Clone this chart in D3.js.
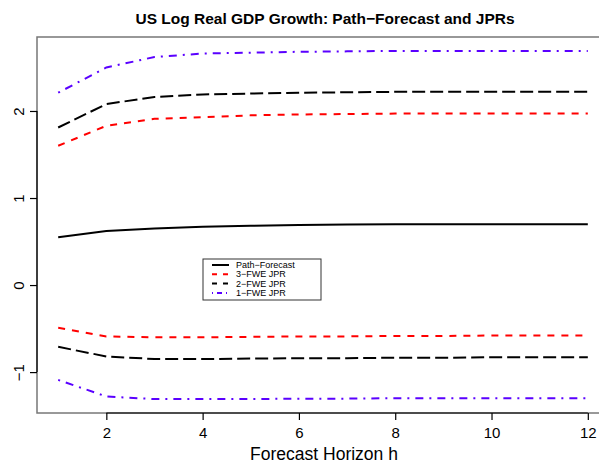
<!DOCTYPE html>
<html>
<head>
  <meta charset='utf-8'>
  <title>US Log Real GDP Growth</title>
  <script src='https://cdn.jsdelivr.net/npm/d3@7'></script>
  <style>
    body { margin: 0; background: #fff; }
    text { font-family: 'Liberation Sans', Arial, sans-serif; }
  </style>
</head>
<body>
  <script>
    // forecast horizons 1..12
    const horizon = [1, 2, 3, 4, 5, 6, 7, 8, 9, 10, 11, 12]
    const pathForecast = [0.55, 0.62, 0.65, 0.67, 0.68, 0.69, 0.695, 0.70, 0.70, 0.70, 0.70, 0.70]
    const up3 = [1.60, 1.83, 1.91, 1.93, 1.95, 1.96, 1.965, 1.97, 1.97, 1.97, 1.97, 1.97]
    const lo3 = [-0.49, -0.59, -0.60, -0.60, -0.595, -0.59, -0.59, -0.585, -0.585, -0.58, -0.58, -0.58]
    const up2 = [1.81, 2.08, 2.16, 2.19, 2.20, 2.21, 2.215, 2.22, 2.22, 2.22, 2.22, 2.22]
    const lo2 = [-0.71, -0.82, -0.85, -0.85, -0.845, -0.84, -0.84, -0.835, -0.835, -0.83, -0.83, -0.83]
    const up1 = [2.21, 2.50, 2.62, 2.66, 2.67, 2.68, 2.685, 2.69, 2.69, 2.69, 2.69, 2.69]
    const lo1 = [-1.09, -1.28, -1.31, -1.31, -1.31, -1.305, -1.305, -1.30, -1.30, -1.30, -1.30, -1.30]
    const xTicks = [2, 4, 6, 8, 10, 12]
    const yTicks = [-1, 0, 1, 2]
    const legendLabels = ['Path\u2212Forecast', '3\u2212FWE JPR', '2\u2212FWE JPR', '1\u2212FWE JPR']

    const width = 599, height = 466
    const plot = { left: 37, right: 609, top: 37, bottom: 413 }

    const styles = [
      { color: '#000', dash: null },
      { color: '#ff0000', dash: '7,7' },
      { color: '#000', dash: '13,5' },
      { color: '#5a00ff', dash: '2,6,8,6' }
    ]
    const series = [
      { vals: pathForecast, s: 0 },
      { vals: up3, s: 1 }, { vals: lo3, s: 1 },
      { vals: up2, s: 2 }, { vals: lo2, s: 2 },
      { vals: up1, s: 3 }, { vals: lo1, s: 3 }
    ]

    const x = d3.scaleLinear().domain([0.56, 12.44]).range([plot.left, plot.right])
    const y = d3.scaleLinear().domain([-1.47, 2.85]).range([plot.bottom, plot.top])

    const svg = d3.select('body').append('svg')
      .attr('width', width).attr('height', height)

    // plot box
    svg.append('rect')
      .attr('x', plot.left).attr('y', plot.top)
      .attr('width', plot.right - plot.left).attr('height', plot.bottom - plot.top)
      .attr('fill', 'none').attr('stroke', '#777').attr('stroke-width', 1.5)

    const line = d3.line().x((d, i) => x(horizon[i])).y(d => y(d))

    svg.append('g').selectAll('path')
      .data(series)
      .join('path')
      .attr('d', d => line(d.vals))
      .attr('fill', 'none')
      .attr('stroke', d => styles[d.s].color)
      .attr('stroke-width', 2)
      .attr('stroke-dasharray', d => styles[d.s].dash)

    // x axis
    const xAxis = svg.append('g').attr('transform', `translate(0,${plot.bottom})`)
      .call(d3.axisBottom(x).tickValues(xTicks).tickSize(7).tickPadding(7).tickSizeOuter(0))
    xAxis.select('.domain').attr('d', `M${x(2)},0H${x(12)}`).attr('stroke-width', 1.2)
    xAxis.selectAll('line').attr('stroke-width', 1.2)
    xAxis.selectAll('text').attr('font-size', 15).attr('fill', '#000')

    // y axis, labels rotated like R
    const yAxis = svg.append('g').attr('transform', `translate(${plot.left},0)`)
      .call(d3.axisLeft(y).tickValues(yTicks).tickSize(7).tickFormat(d => d < 0 ? '\u2212' + Math.abs(d) : d).tickSizeOuter(0))
    yAxis.select('.domain').attr('d', `M0,${y(-1)}V${y(2)}`).attr('stroke-width', 1.2)
    yAxis.selectAll('line').attr('stroke-width', 1.2)
    yAxis.selectAll('text')
      .attr('font-size', 15).attr('fill', '#000')
      .attr('x', 0).attr('y', 0)
      .attr('text-anchor', 'middle')
      .attr('transform', 'translate(-18,0) rotate(-90)')
      .attr('dy', '0.35em')

    svg.append('text')
      .attr('x', 325).attr('y', 24)
      .attr('text-anchor', 'middle')
      .attr('font-size', 15.5).attr('font-weight', 'bold')
      .text('US Log Real GDP Growth: Path\u2212Forecast and JPRs')

    svg.append('text')
      .attr('x', 324).attr('y', 460)
      .attr('text-anchor', 'middle')
      .attr('font-size', 17.5)
      .text('Forecast Horizon h')

    // legend
    const lg = svg.append('g').attr('transform', 'translate(203,259)')
    lg.append('rect').attr('width', 118).attr('height', 41)
      .attr('fill', '#fff').attr('stroke', '#333').attr('stroke-width', 1)
    const rows = lg.selectAll('g.row').data(legendLabels).join('g')
      .attr('class', 'row')
      .attr('transform', (d, i) => `translate(0,${6 + i * 9.3})`)
    rows.append('line')
      .attr('x1', 9).attr('x2', 26).attr('y1', 0).attr('y2', 0)
      .attr('stroke', (d, i) => styles[i].color)
      .attr('stroke-width', 2)
      .attr('stroke-dasharray', (d, i) => i === 3 ? '1,4,5,4' : (i === 0 ? null : '5,6'))
    rows.append('text')
      .attr('x', 33).attr('y', 0).attr('dy', '0.35em')
      .attr('font-size', 9)
      .text(d => d)
  </script>
</body>
</html>
